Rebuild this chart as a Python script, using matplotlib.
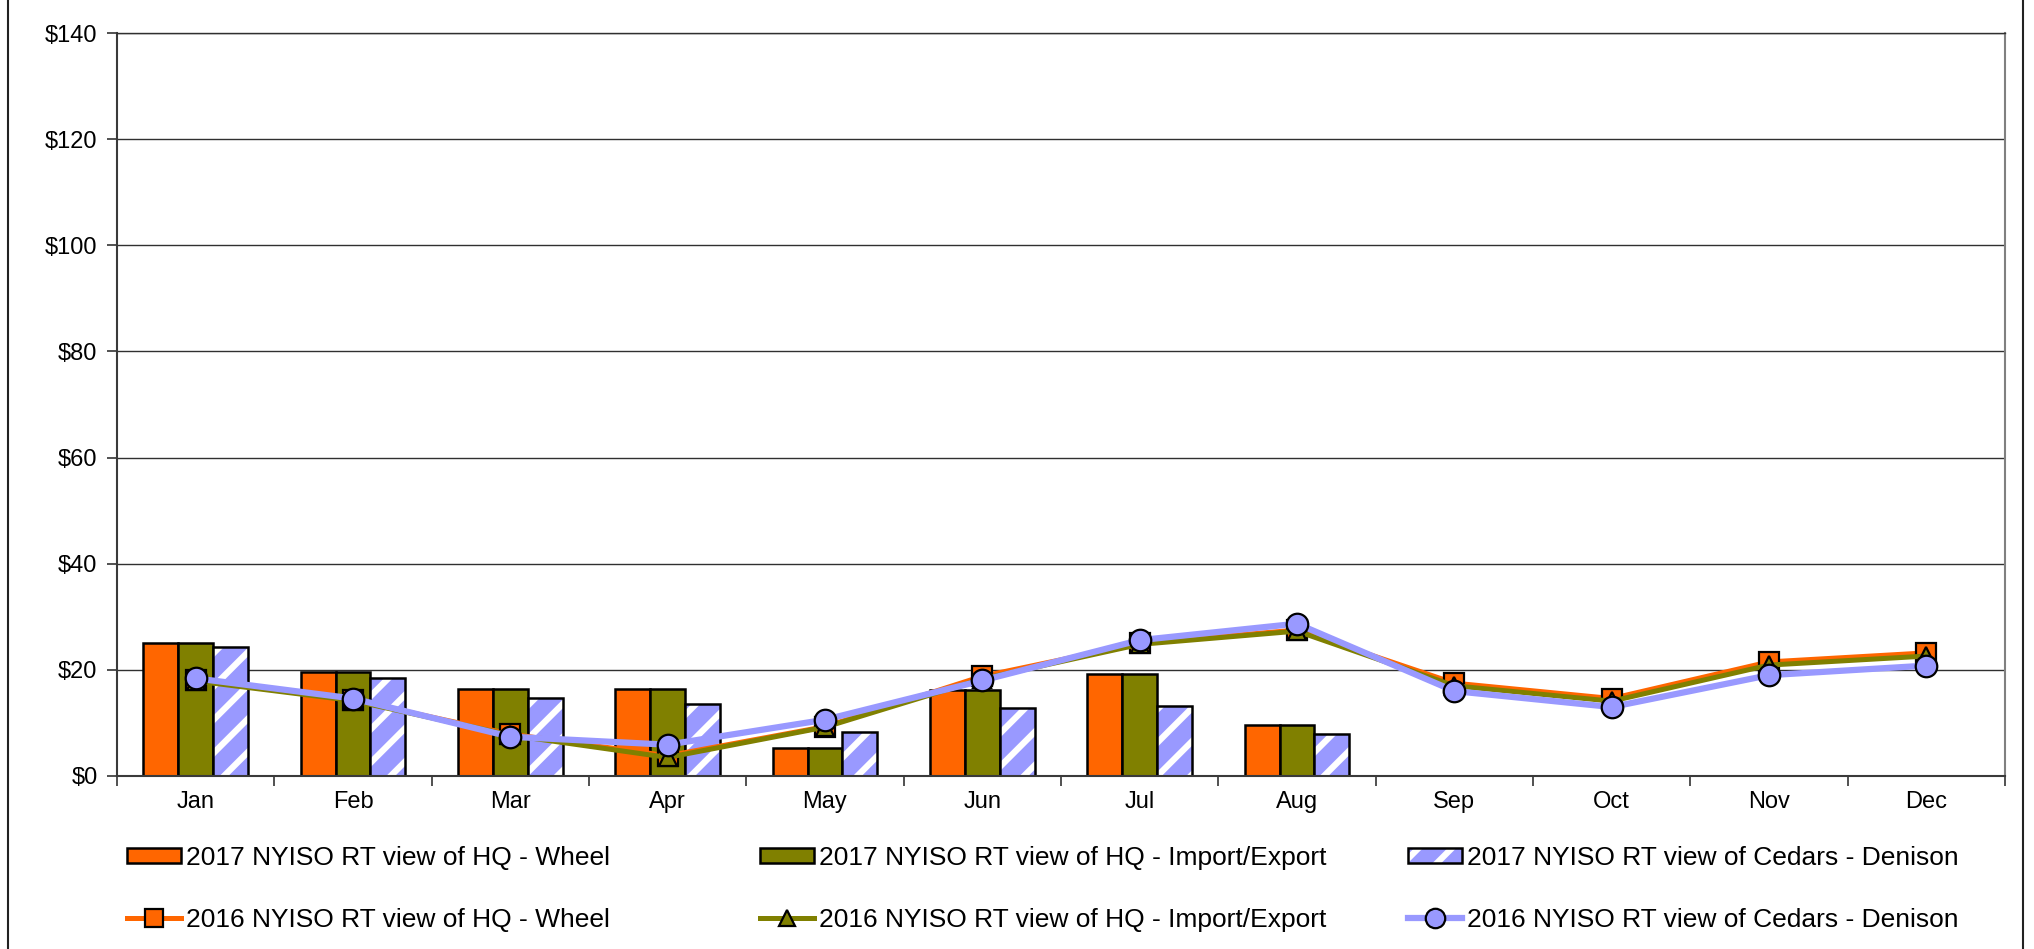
import numpy as np
import matplotlib
matplotlib.use("Agg")
import matplotlib.pyplot as plt
from matplotlib.patches import Rectangle, Patch
from matplotlib.lines import Line2D

plt.rcParams["font.family"] = ["Liberation Sans", "DejaVu Sans"]
plt.rcParams["hatch.linewidth"] = 4.5

months = ["Jan", "Feb", "Mar", "Apr", "May", "Jun",
          "Jul", "Aug", "Sep", "Oct", "Nov", "Dec"]

# 2017 bars (Jan-Aug only)
wheel_2017 = [25.1, 19.6, 16.3, 16.3, 5.3, 16.2, 19.2, 9.6]
impexp_2017 = [25.1, 19.6, 16.3, 16.3, 5.3, 16.2, 19.2, 9.6]
cedars_2017 = [24.4, 18.4, 14.7, 13.6, 8.2, 12.8, 13.2, 7.9]

# 2016 lines
wheel_2016 = [18.1, 14.3, 7.9, 3.8, 9.3, 18.8, 25.0, 27.5, 17.5, 14.6, 21.5, 23.2]
impexp_2016 = [17.9, 14.2, 7.7, 3.5, 9.2, 18.3, 24.8, 27.3, 17.0, 14.1, 20.9, 22.6]
cedars_2016 = [18.4, 14.6, 7.4, 5.9, 10.6, 18.0, 25.6, 28.7, 16.0, 13.0, 19.0, 20.8]

labels = [
    "2017 NYISO RT view of HQ - Wheel",
    "2017 NYISO RT view of HQ - Import/Export",
    "2017 NYISO RT view of Cedars - Denison",
    "2016 NYISO RT view of HQ - Wheel",
    "2016 NYISO RT view of HQ - Import/Export",
    "2016 NYISO RT view of Cedars - Denison",
]

ORANGE = "#FF6600"
OLIVE = "#808000"
LAVENDER = "#9999FF"

W, H = 2034, 949
fig = plt.figure(figsize=(W / 100, H / 100), dpi=100)
ax = fig.add_axes([117 / W, 1 - 776 / H, (2005 - 117) / W, (776 - 33) / H])

x_all = np.arange(len(months))
x_bar = np.arange(len(wheel_2017))
bw = 0.222

ax.bar(x_bar - bw, wheel_2017, bw, color=ORANGE, edgecolor="black", linewidth=1.8, zorder=2)
ax.bar(x_bar, impexp_2017, bw, color=OLIVE, edgecolor="black", linewidth=1.8, zorder=2)
ax.bar(x_bar + bw, cedars_2017, bw, color=LAVENDER, edgecolor="white", hatch="/",
       linewidth=0, zorder=2)
ax.bar(x_bar + bw, cedars_2017, bw, fill=False, edgecolor="black", linewidth=1.8, zorder=2)

ax.plot(x_all, wheel_2016, color=ORANGE, lw=3.6, marker="s", ms=14,
        mfc=ORANGE, mec="black", mew=1.6, zorder=3)
ax.plot(x_all, impexp_2016, color=OLIVE, lw=3.6, marker="^", ms=13,
        mfc=OLIVE, mec="black", mew=1.6, zorder=4)
ax.plot(x_all, cedars_2016, color=LAVENDER, lw=4.5, marker="o", ms=15.5,
        mfc=LAVENDER, mec="black", mew=1.6, zorder=5)

ax.set_xlim(-0.5, 11.5)
ax.set_ylim(0, 140)
ax.set_yticks(np.arange(0, 141, 20))
ax.set_yticklabels([f"${v}" for v in range(0, 141, 20)])
ax.set_xticks(x_all)
ax.set_xticklabels(months)
ax.set_xticks(np.arange(-0.5, 12, 1), minor=True)
ax.tick_params(axis="x", which="major", length=0, pad=11, labelsize=17)
ax.tick_params(axis="x", which="minor", length=7, width=1.2, color="#333333")
ax.tick_params(axis="y", length=7, width=1.2, color="#333333", pad=7, labelsize=17)

ax.yaxis.grid(True, color="#303030", lw=1.0)
ax.set_axisbelow(True)
for side in ["left", "bottom"]:
    ax.spines[side].set_color("#3a3a3a")
    ax.spines[side].set_linewidth(1.5)
ax.spines["right"].set_color("#808080")
ax.spines["right"].set_linewidth(1.5)
ax.spines["top"].set_color("#303030")
ax.spines["top"].set_linewidth(1.0)

# legend handles
h_bar = [
    Patch(facecolor=ORANGE, edgecolor="black", linewidth=1.8),
    Patch(facecolor=OLIVE, edgecolor="black", linewidth=1.8),
    (Patch(facecolor=LAVENDER, edgecolor="white", hatch="/", linewidth=0),
     Patch(fill=False, edgecolor="black", linewidth=1.8)),
]
h_line = [
    Line2D([], [], color=ORANGE, lw=3.6, marker="s", ms=13, mfc=ORANGE, mec="black", mew=1.6),
    Line2D([], [], color=OLIVE, lw=3.6, marker="^", ms=12, mfc=OLIVE, mec="black", mew=1.6),
    Line2D([], [], color=LAVENDER, lw=4.5, marker="o", ms=14, mfc=LAVENDER, mec="black", mew=1.6),
]

col_x = [127, 760, 1408]
for i in range(3):
    fig.legend(
        [h_bar[i], h_line[i]], [labels[i], labels[i + 3]],
        loc="center left", bbox_to_anchor=(col_x[i] / W, 1 - 889 / H),
        frameon=False, fontsize=19, handlelength=2.05, handleheight=0.55,
        handletextpad=0.2, borderpad=0, borderaxespad=0, labelspacing=1.45,
        numpoints=1,
    )

fig.patches.append(Rectangle((8 / W, -0.01), (2023 - 8) / W, 1.02,
                             transform=fig.transFigure, fill=False,
                             edgecolor="#222222", linewidth=1.5))

fig.savefig("out.png", dpi=100)
